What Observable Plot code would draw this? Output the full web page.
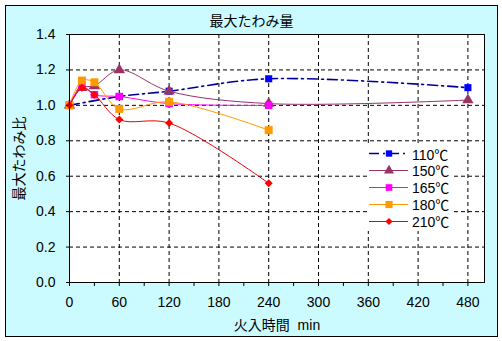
<!DOCTYPE html>
<html><head><meta charset="utf-8">
<script src="https://cdn.jsdelivr.net/npm/d3@7"></script>
<script src="https://cdn.jsdelivr.net/npm/@observablehq/plot@0.6"></script>
<style>
html,body{margin:0;padding:0;background:#fff;}
#wrap{position:relative;width:502px;height:341px;font-family:"Liberation Sans","Noto Sans CJK JP",sans-serif;}
#frame{position:absolute;left:5px;top:5px;width:491px;height:330px;border:1px solid #000;background:#ccfbff;}
#chart{position:absolute;left:0;top:0;}
#title{position:absolute;left:5px;width:493px;top:11px;text-align:center;font-size:14px;line-height:18px;font-family:"Noto Sans CJK JP",sans-serif;}
#legend{position:absolute;left:367px;top:145px;width:84px;height:86px;background:#fff;}
.row{position:absolute;left:0;height:17px;display:flex;align-items:center;font-size:14px;}
.row span{margin-left:3px;}
</style></head>
<body>
<div id="wrap"><div id="frame"></div><div id="chart"></div><div id="title">最大たわみ量</div><div id="legend"></div></div>
<script>
const times = [0, 15, 30, 60, 120, 240, 480];
const seriesNames = ["110℃", "150℃", "165℃", "180℃", "210℃"];
const v110 = [1.00, null, null, 1.05, 1.08, 1.15, 1.10];
const v150 = [1.00, 1.10, 1.11, 1.20, 1.08, 1.01, 1.03];
const v165 = [1.00, 1.11, 1.06, 1.05, 1.01, 1.00, null];
const v180 = [1.00, 1.14, 1.13, 0.98, 1.02, 0.86, null];
const v210 = [1.00, 1.10, 1.06, 0.92, 0.90, 0.56, null];
const xTicks = [0, 60, 120, 180, 240, 300, 360, 420, 480];
const yTicks = [0.0, 0.2, 0.4, 0.6, 0.8, 1.0, 1.2, 1.4];

const values = [v110, v150, v165, v180, v210];
const styles = [
  {line: "#000099", fill: "#0000ff", symbol: "square", r: 4, sw: 1.6, dash: "10,4,2,4"},
  {line: "#993366", fill: "#993366", symbol: "triangle", r: 4.2, sw: 1, dash: null},
  {line: "#ff00ff", fill: "#ff00ff", symbol: "square", r: 4.2, sw: 1, dash: null},
  {line: "#ff9900", fill: "#ff9900", symbol: "square", r: 4.5, sw: 1, dash: null},
  {line: "#ee0000", fill: "#ff0000", symbol: "diamond2", r: 3.6, sw: 1, dash: null}
];
const rows = [];
seriesNames.forEach((s, i) => times.forEach((t, j) => {
  if (values[i][j] != null) rows.push({s, t, v: values[i][j]});
}));

const marks = [
  Plot.frame({fill: "white"}),
  Plot.gridX(xTicks.filter(d => d > 0), {stroke: "#000", strokeOpacity: 1, strokeDasharray: "4,3"}),
  Plot.gridY(yTicks.filter(d => d > 0), {stroke: "#000", strokeOpacity: 1, strokeDasharray: "4,3"}),
];
seriesNames.forEach((s, i) => {
  const st = styles[i];
  const d = rows.filter(r => r.s === s);
  marks.push(Plot.line(d, {x: "t", y: "v", stroke: st.line, strokeWidth: st.sw, curve: "catmull-rom", strokeDasharray: st.dash}));
  marks.push(Plot.dot(d, {x: "t", y: "v", symbol: () => st.symbol, fill: st.fill, stroke: "none", r: st.r}));
});
marks.push(
  Plot.axisX(d3.range(0, 481, 30), {tickSize: 4, tickFormat: () => "", label: null}),
  Plot.axisX(xTicks, {tickSize: 0, tickPadding: 15, tickFormat: d => String(d), label: "火入時間\u00a0\u00a0min", labelAnchor: "center", labelArrow: "none", labelOffset: 47, fontSize: 14}),
  Plot.axisY(yTicks, {tickSize: 3, tickPadding: 11, tickFormat: d => d.toFixed(1), label: "最大たわみ比", labelAnchor: "center", labelArrow: "none", labelOffset: 55, fontSize: 14}),
  Plot.frame({stroke: "#000", strokeWidth: 1})
);

const chart = Plot.plot({
  width: 502, height: 341,
  marginLeft: 69, marginRight: 18, marginTop: 34, marginBottom: 59,
  x: {domain: [0, 500]},
  y: {domain: [0, 1.4]},
  style: {background: "transparent", fontFamily: "'Liberation Sans','Noto Sans CJK JP',sans-serif", fontSize: "14px", color: "#000"},
  marks
});
document.getElementById("chart").appendChild(chart);

// legend
const leg = d3.select("#legend");
seriesNames.forEach((s, i) => {
  const st = styles[i];
  const row = leg.append("div").attr("class", "row").style("top", (i * 16.9) + "px");
  const svg = row.append("svg").attr("width", 42).attr("height", 17);
  svg.append("line").attr("x1", 2).attr("x2", 41).attr("y1", 8.5).attr("y2", 8.5)
    .attr("stroke", st.line).attr("stroke-width", st.sw).attr("stroke-dasharray", st.dash);
  const sym = {square: d3.symbolSquare, triangle: d3.symbolTriangle, diamond2: d3.symbolDiamond2}[st.symbol];
  svg.append("path").attr("transform", "translate(22,8.5)")
    .attr("d", d3.symbol(sym, Math.PI * st.r * st.r * 0.8)()).attr("fill", st.fill);
  row.append("span").text(s);
});
</script>
</body></html>
